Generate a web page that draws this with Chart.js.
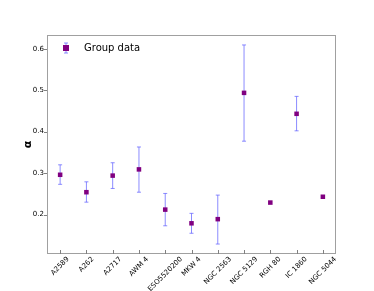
<!DOCTYPE html>
<html>
<head>
<meta charset="utf-8">
<script src="https://cdn.jsdelivr.net/npm/chart.js@4.4.1/dist/chart.umd.min.js"></script>
<style>
  html, body { margin:0; padding:0; background:#fff; }
  #wrap { width:374px; height:291px; }
</style>
</head>
<body>
<div id="wrap"><canvas id="c" width="374" height="291"></canvas></div>
<script>
// ---- data ----
const groups   = ['A2589','A262','A2717','AWM 4','ESO5520200','MKW 4','NGC 2563','NGC 5129','RGH 80','IC 1860','NGC 5044'];
const alpha    = [0.296, 0.254, 0.294, 0.309, 0.212, 0.179, 0.189, 0.4935, 0.229, 0.443, 0.243];
const errHigh  = [0.320, 0.279, 0.325, 0.363, 0.251, 0.203, 0.247, 0.609, null, 0.485, null];
const errLow   = [0.273, 0.230, 0.263, 0.254, 0.173, 0.155, 0.129, 0.377, null, 0.402, null];
const yTicks   = [0.2, 0.3, 0.4, 0.5, 0.6];

const MARKER = '#800080';
const ERRCOL = 'rgba(100,100,255,0.75)';
const TICKFONT = '7px "DejaVu Sans"';

const points = groups.map((g, i) => ({ x: i, y: alpha[i] }));

function drawErr(ctx, x, yHi, yLo) {
  ctx.beginPath();
  ctx.moveTo(x, yHi); ctx.lineTo(x, yLo);
  ctx.moveTo(x - 2, yHi); ctx.lineTo(x + 2, yHi);
  ctx.moveTo(x - 2, yLo); ctx.lineTo(x + 2, yLo);
  ctx.stroke();
}

/* error bars, frame, tick marks, x labels, legend, axis title */
const decor = {
  id: 'decor',
  beforeDatasetsDraw(chart) {
    const { ctx, scales: { x, y } } = chart;
    ctx.save();
    ctx.strokeStyle = ERRCOL;
    ctx.lineWidth = 1;
    groups.forEach((g, i) => {
      if (errHigh[i] == null) return;
      drawErr(ctx, x.getPixelForValue(i), y.getPixelForValue(errHigh[i]), y.getPixelForValue(errLow[i]));
    });
    ctx.restore();
  },
  afterDraw(chart) {
    const { ctx, chartArea: a, scales: { x, y } } = chart;
    ctx.save();
    // frame
    ctx.strokeStyle = '#a0a0a0';
    ctx.lineWidth = 1;
    ctx.strokeRect(a.left + 0.5, a.top + 0.5, a.right - a.left - 1, a.bottom - a.top - 1);
    // tick marks: x inward, y outward
    ctx.strokeStyle = '#808080';
    ctx.beginPath();
    groups.forEach((g, i) => {
      const px = Math.round(x.getPixelForValue(i)) + 0.5;
      ctx.moveTo(px, a.bottom); ctx.lineTo(px, a.bottom - 4);
    });
    yTicks.forEach(v => {
      const py = Math.round(y.getPixelForValue(v)) + 0.5;
      ctx.moveTo(a.left, py); ctx.lineTo(a.left - 3, py);
    });
    ctx.stroke();
    // x labels, rotated 45°, centred on the tick (matplotlib style)
    ctx.font = TICKFONT;
    ctx.fillStyle = '#000';
    ctx.textAlign = 'center';
    ctx.textBaseline = 'middle';
    groups.forEach((g, i) => {
      const w = ctx.measureText(g).width;
      const half = (w + 6) / (2 * Math.SQRT2);
      ctx.save();
      ctx.translate(x.getPixelForValue(i), a.bottom + 2 + half);
      ctx.rotate(-Math.PI / 4);
      ctx.fillText(g, 0, 0);
      ctx.restore();
    });
    // legend
    const lx = a.left + 19, ly = a.top + 13;
    ctx.strokeStyle = ERRCOL;
    drawErr(ctx, lx, ly - 5, ly + 5);
    ctx.fillStyle = MARKER;
    ctx.fillRect(lx - 3, ly - 3, 6, 6);
    ctx.fillStyle = '#000';
    ctx.font = '10px "DejaVu Sans"';
    ctx.textAlign = 'left';
    ctx.fillText('Group data', lx + 18, ly);
    // y title
    ctx.translate(a.left - 19, (a.top + a.bottom) / 2);
    ctx.rotate(-Math.PI / 2);
    ctx.font = 'bold 11px "DejaVu Sans"';
    ctx.textAlign = 'center';
    ctx.fillText('α', 0, 0);
    ctx.restore();
  }
};

new Chart(document.getElementById('c'), {
  type: 'scatter',
  data: {
    datasets: [{
      label: 'Group data', data: points,
      pointStyle: 'rect', pointRadius: 3.2, pointHoverRadius: 3.2,
      backgroundColor: MARKER, borderColor: MARKER, borderWidth: 0
    }]
  },
  options: {
    responsive: false, animation: false,
    layout: { padding: { left: 0, top: 35, right: 38, bottom: 0 } },
    plugins: { legend: { display: false }, tooltip: { enabled: false } },
    scales: {
      x: {
        type: 'linear', min: -0.5, max: 10.5,
        afterBuildTicks: s => { s.ticks = groups.map((g, i) => ({ value: i })); },
        afterFit: s => { s.height = 37; },
        grid: { display: false, drawTicks: false },
        border: { display: false },
        ticks: { display: false }
      },
      y: {
        min: 0.105, max: 0.633,
        afterBuildTicks: s => { s.ticks = yTicks.map(v => ({ value: v })); },
        afterFit: s => { s.width = 47; },
        grid: { display: false, drawTicks: false },
        border: { display: false },
        ticks: {
          callback: v => v.toFixed(1), padding: 3,
          color: '#000', font: { family: 'DejaVu Sans', size: 7 }
        }
      }
    }
  },
  plugins: [decor]
});
</script>
</body>
</html>
